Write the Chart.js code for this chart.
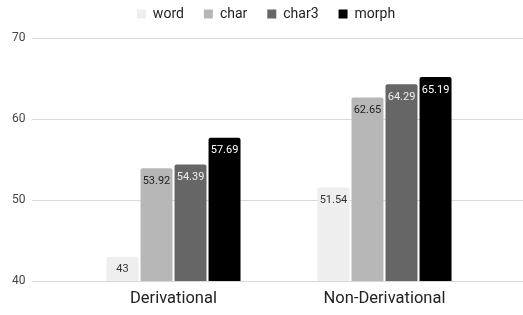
<!DOCTYPE html>
<html>
<head>
<meta charset="utf-8">
<script src="https://cdn.jsdelivr.net/npm/chart.js@4/dist/chart.umd.min.js"></script>
<style>
  html, body { margin: 0; padding: 0; background: #fff; }
</style>
</head>
<body>
<canvas id="myChart" width="523" height="315"></canvas>
<script>
const categories = ['Derivational', 'Non-Derivational']
const seriesNames = ['word', 'char', 'char3', 'morph']
const word = [43, 51.54]
const char = [53.92, 62.65]
const char3 = [54.39, 64.29]
const morph = [57.69, 65.19]
const yTicks = [40, 50, 60, 70]

const barColors = ['#eeeeee', '#b7b7b7', '#666666', '#000000']
const labelColors = ['#333333', '#222222', '#eeeeee', '#ffffff']

// gridlines in the sheet run past the plot area, so draw them by hand
const wideGrid = {
  id: 'wideGrid',
  beforeDatasetsDraw(chart) {
    const ctx = chart.ctx
    const y = chart.scales.y
    ctx.save()
    ctx.strokeStyle = '#d9d9d9'
    ctx.lineWidth = 1
    y.ticks.forEach(t => {
      const py = Math.round(y.getPixelForValue(t.value)) + 0.5
      ctx.beginPath()
      ctx.moveTo(32, py)
      ctx.lineTo(chart.width, py)
      ctx.stroke()
    })
    ctx.restore()
  }
}

// a bit more room under the legend row
const legendGap = {
  id: 'legendGap',
  afterInit(chart) {
    const legend = chart.legend
    const fit = legend.fit
    legend.fit = function () {
      fit.call(this)
      this.height += 7
    }
  }
}

const barLabels = {
  id: 'barLabels',
  afterDatasetsDraw(chart) {
    const ctx = chart.ctx
    ctx.save()
    ctx.font = '11px Roboto'
    ctx.textAlign = 'center'
    ctx.textBaseline = 'middle'
    chart.data.datasets.forEach((ds, i) => {
      const meta = chart.getDatasetMeta(i)
      meta.data.forEach((bar, j) => {
        ctx.fillStyle = labelColors[i]
        ctx.fillText(String(ds.data[j]), bar.x, bar.y + 13)
      })
    })
    ctx.restore()
  }
}

const ctx = document.getElementById('myChart')
new Chart(ctx, {
  type: 'bar',
  data: {
    labels: categories,
    datasets: [word, char, char3, morph].map((values, i) => ({
      label: seriesNames[i],
      data: values,
      backgroundColor: barColors[i],
      borderRadius: { topLeft: 2, topRight: 2 },
      borderSkipped: 'bottom',
      categoryPercentage: 0.645,
      barPercentage: 0.94
    }))
  },
  options: {
    responsive: false,
    animation: false,
    devicePixelRatio: 1,
    layout: { padding: { top: -13, left: 12, right: 3, bottom: 0 } },
    plugins: {
      legend: {
        position: 'top',
        labels: {
          boxWidth: 9,
          boxHeight: 9,
          padding: 20,
          color: '#222',
          font: { family: 'Roboto', size: 14 }
        }
      },
      tooltip: { enabled: false }
    },
    scales: {
      x: {
        grid: { display: false, drawTicks: false },
        border: { display: false },
        ticks: {
          color: '#222',
          padding: 8,
          font: { family: 'Roboto', size: 16.5 }
        },
        afterFit: scale => { scale.height = 34 }
      },
      y: {
        min: 40,
        max: 70,
        grid: { display: false, drawTicks: false },
        border: { display: false },
        afterBuildTicks: scale => { scale.ticks = yTicks.map(v => ({ value: v })) },
        ticks: {
          crossAlign: 'far',
          color: '#444',
          font: { family: 'Roboto', size: 12 }
        },
        afterFit: scale => { scale.width = 56 }
      },
      // empty right-hand axis, only keeps the plot off the right edge
      yRight: {
        position: 'right',
        grid: { display: false, drawTicks: false },
        border: { display: false },
        ticks: { display: false },
        afterFit: scale => { scale.width = 30 }
      }
    }
  },
  plugins: [wideGrid, legendGap, barLabels]
})
</script>
</body>
</html>
